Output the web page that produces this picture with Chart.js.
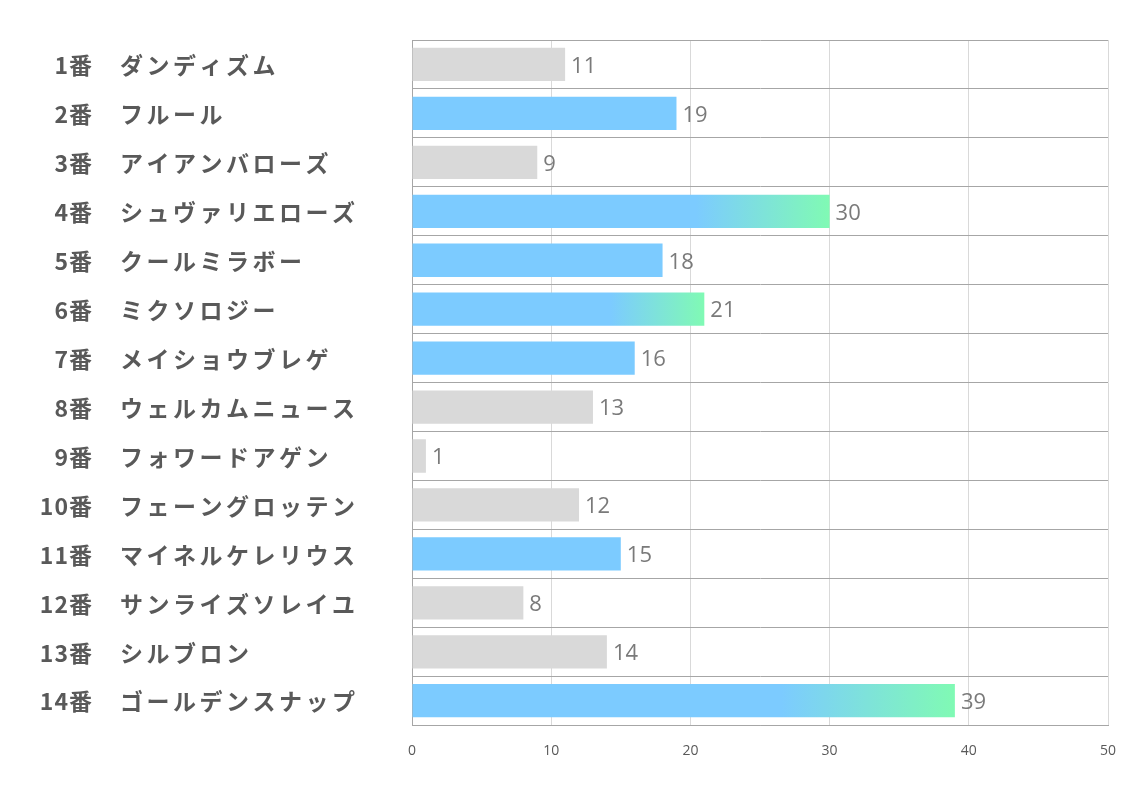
<!DOCTYPE html>
<html>
<head>
<meta charset="utf-8">
<script src="https://cdn.jsdelivr.net/npm/chart.js@4/dist/chart.umd.min.js"></script>
<style>
  html, body { margin: 0; padding: 0; background: #fff; }
  #wrap { width: 1134px; height: 793px; position: relative; }
</style>
</head>
<body>
<div id="wrap"><canvas id="myChart" width="1134" height="793"></canvas></div>
<script>
// Data
const numbers = ['1番', '2番', '3番', '4番', '5番', '6番', '7番', '8番', '9番', '10番', '11番', '12番', '13番', '14番'];
const horses = ['ダンディズム', 'フルール', 'アイアンバローズ', 'シュヴァリエローズ', 'クールミラボー', 'ミクソロジー',
    'メイショウブレゲ', 'ウェルカムニュース', 'フォワードアゲン', 'フェーングロッテン', 'マイネルケレリウス',
    'サンライズソレイユ', 'シルブロン', 'ゴールデンスナップ'];
const scores = [11, 19, 9, 30, 18, 21, 16, 13, 1, 12, 15, 8, 14, 39];
// 'gray' = not picked, 'blue' = picked, 'grad' = top picks
const barKinds = ['gray', 'blue', 'gray', 'grad', 'blue', 'grad', 'blue', 'gray', 'gray', 'gray', 'blue', 'gray', 'gray', 'grad'];
const xTicks = [0, 10, 20, 30, 40, 50];

const GRAY = '#d9d9d9';
const BLUE = '#7ccbff';
const GREEN = '#80fab4';

const ctx = document.getElementById('myChart').getContext('2d');

// Bar colour, gradient bars fade from blue to green near their end
function barColor(context) {
    const i = context.dataIndex;
    const kind = barKinds[i];
    if (kind === 'gray') return GRAY;
    if (kind === 'blue') return BLUE;
    const chart = context.chart;
    if (!chart.chartArea) return BLUE;
    const x = chart.scales.x;
    const x0 = x.getPixelForValue(0);
    const x1 = x.getPixelForValue(scores[i]);
    const g = chart.ctx.createLinearGradient(x0, 0, x1, 0);
    g.addColorStop(0, BLUE);
    g.addColorStop(0.68, BLUE);
    g.addColorStop(1, GREEN);
    return g;
}

// Left labels: number right aligned, horse name left aligned
const rowLabels = {
    id: 'rowLabels',
    afterDraw(chart) {
        const c = chart.ctx;
        const y = chart.scales.y;
        c.save();
        c.fillStyle = '#595959';
        c.font = 'bold 23px "Noto Sans CJK JP", sans-serif';
        c.textBaseline = 'middle';
        numbers.forEach((n, i) => {
            const py = y.getPixelForValue(i) + 1;
            c.letterSpacing = '1px';
            c.textAlign = 'right';
            c.fillText(n, 93, py);
            c.letterSpacing = '3.5px';
            c.textAlign = 'left';
            c.fillText(horses[i], 120, py);
        });
        c.restore();
    }
};

// Value labels at the end of each bar
const valueLabels = {
    id: 'valueLabels',
    afterDatasetsDraw(chart) {
        const c = chart.ctx;
        const meta = chart.getDatasetMeta(0);
        c.save();
        c.fillStyle = '#7a7a7a';
        c.font = '22px "Open Sans", sans-serif';
        c.textAlign = 'left';
        c.textBaseline = 'middle';
        meta.data.forEach((bar, i) => {
            c.fillText(String(scores[i]), bar.x + 6, bar.y + 2);
        });
        c.restore();
    }
};

new Chart(ctx, {
    type: 'bar',
    data: {
        labels: horses,
        datasets: [{
            data: scores,
            backgroundColor: barColor,
            borderWidth: 0,
            barPercentage: 0.68,
            categoryPercentage: 1
        }]
    },
    options: {
        indexAxis: 'y',
        responsive: false,
        animation: false,
        layout: {
            padding: { left: 412, right: 26, top: 40, bottom: 17 }
        },
        scales: {
            x: {
                min: 0,
                max: 50,
                afterBuildTicks: axis => { axis.ticks = xTicks.map(v => ({ value: v })); },
                ticks: {
                    color: '#595959',
                    font: { size: 14, family: '"Open Sans", sans-serif' },
                    padding: 17
                },
                grid: {
                    color: '#d9d9d9',
                    drawTicks: false
                },
                border: { color: '#a6a6a6' }
            },
            y: {
                ticks: { display: false },
                grid: {
                    color: '#a6a6a6',
                    drawTicks: false,
                    offset: true
                },
                border: { color: '#a6a6a6' }
            }
        },
        plugins: {
            legend: { display: false },
            tooltip: { enabled: false }
        }
    },
    plugins: [rowLabels, valueLabels]
});
</script>
</body>
</html>
